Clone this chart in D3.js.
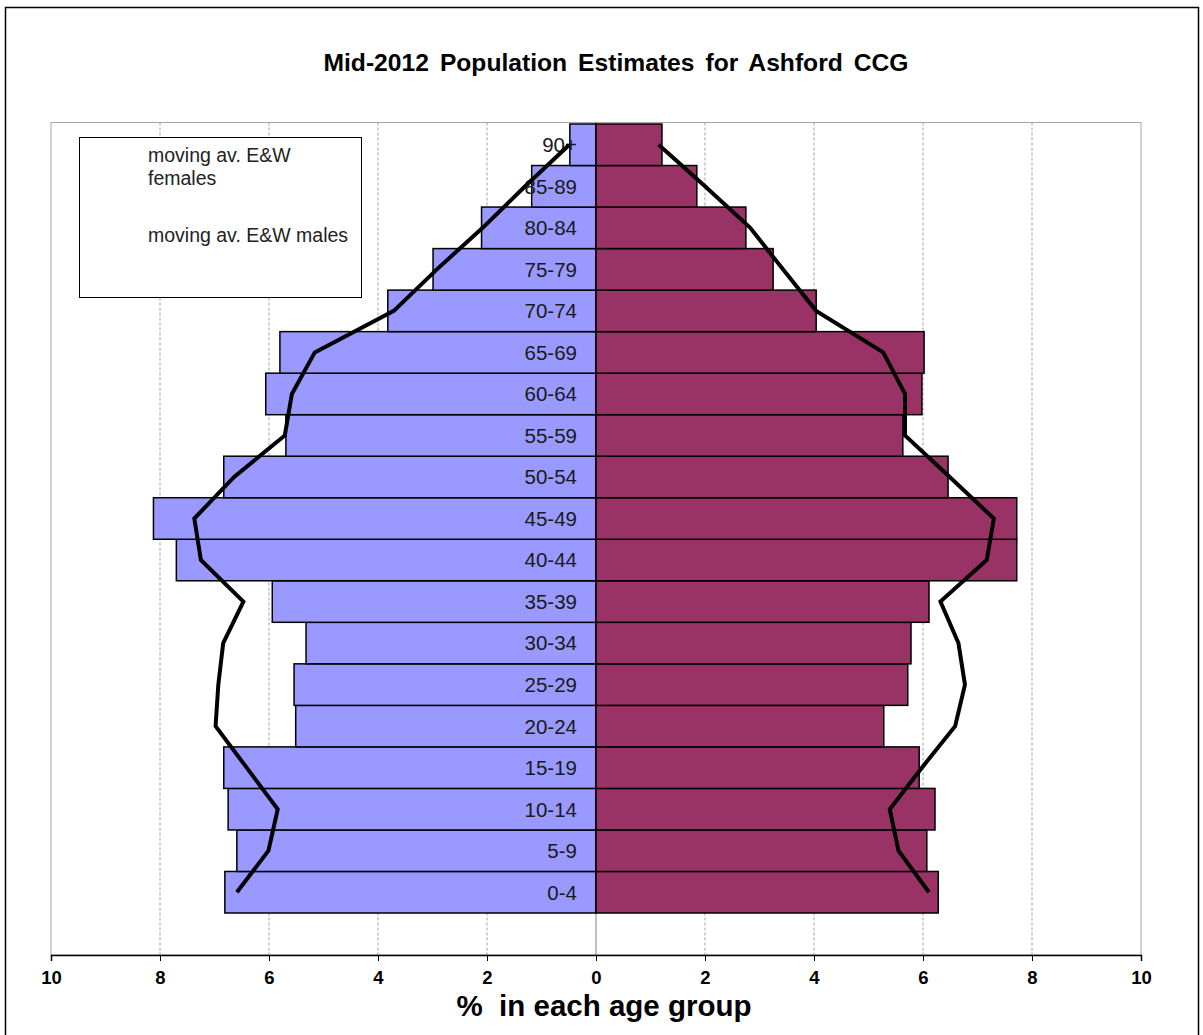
<!DOCTYPE html>
<html>
<head>
<meta charset="utf-8">
<script src="https://cdn.jsdelivr.net/npm/d3@7"></script>
<style>
  html, body { margin: 0; padding: 0; background: #fff; }
  svg { display: block; font-family: "Liberation Sans", Arial, sans-serif; }
</style>
</head>
<body>
<svg id="chart" width="1203" height="1035"></svg>
<script>
// Age bands, bottom to top
const ageGroups = ["0-4", "5-9", "10-14", "15-19", "20-24", "25-29", "30-34", "35-39", "40-44",
  "45-49", "50-54", "55-59", "60-64", "65-69", "70-74", "75-79", "80-84", "85-89", "90+"];

// % of population in each band (left side drawn as negatives)
const leftBars = [6.81, 6.59, 6.75, 6.83, 5.51, 5.54, 5.32, 5.94, 7.70,
  8.12, 6.83, 5.69, 6.06, 5.80, 3.82, 2.99, 2.10, 1.18, 0.48];
const rightBars = [6.28, 6.07, 6.22, 5.93, 5.28, 5.72, 5.78, 6.11, 7.72,
  7.72, 6.46, 5.63, 5.98, 6.02, 4.04, 3.25, 2.75, 1.85, 1.21];

// England & Wales moving averages (black lines)
const leftLine = [6.59, 6.01, 5.84, 6.41, 6.98, 6.93, 6.84, 6.47, 7.25,
  7.37, 6.64, 5.71, 5.58, 5.16, 3.71, 2.92, 2.08, 1.30, 0.49];
const rightLine = [6.11, 5.55, 5.39, 5.98, 6.59, 6.77, 6.65, 6.32, 7.17,
  7.30, 6.49, 5.67, 5.67, 5.27, 4.04, 3.43, 2.83, 2.00, 1.15];

const xTicks = [-10, -8, -6, -4, -2, 0, 2, 4, 6, 8, 10];
const legendLines = ["moving av. E&W", "females", "moving av. E&W males"];

const svg = d3.select("#chart");

// outer chart frame
svg.append("rect")
  .attr("x", 5.5).attr("y", 7.5).attr("width", 1193).attr("height", 1040)
  .attr("fill", "#fff").attr("stroke", "#000").attr("stroke-width", 1.5);

const plot = { left: 51, right: 1141, top: 122.5, bottom: 955 };

const x = d3.scaleLinear().domain([-10, 10]).range([plot.left, plot.right]);
const y = d3.scaleBand().domain(ageGroups).range([913, 124]).padding(0);

// plot border + gridlines
svg.append("rect")
  .attr("x", plot.left).attr("y", plot.top)
  .attr("width", plot.right - plot.left).attr("height", plot.bottom - plot.top)
  .attr("fill", "none").attr("stroke", "#a6a6a6").attr("stroke-width", 1);

svg.append("g").selectAll("line")
  .data(xTicks.filter(d => Math.abs(d) !== 10))
  .join("line")
  .attr("x1", d => x(d)).attr("x2", d => x(d))
  .attr("y1", plot.top).attr("y2", plot.bottom)
  .attr("stroke", d => d === 0 ? "#808080" : "#a0a0a0")
  .attr("stroke-width", 1)
  .attr("stroke-dasharray", d => d === 0 ? null : "3,2");

// bars
const bars = svg.append("g");
bars.selectAll("rect.left")
  .data(ageGroups)
  .join("rect")
  .attr("class", "left")
  .attr("x", (d, i) => x(-leftBars[i]))
  .attr("y", d => y(d))
  .attr("width", (d, i) => x(0) - x(-leftBars[i]))
  .attr("height", y.bandwidth())
  .attr("fill", "#9999ff").attr("stroke", "#000").attr("stroke-width", 1.5);

bars.selectAll("rect.right")
  .data(ageGroups)
  .join("rect")
  .attr("class", "right")
  .attr("x", x(0))
  .attr("y", d => y(d))
  .attr("width", (d, i) => x(rightBars[i]) - x(0))
  .attr("height", y.bandwidth())
  .attr("fill", "#993366").attr("stroke", "#000").attr("stroke-width", 1.5);

// age labels
svg.append("g").selectAll("text")
  .data(ageGroups)
  .join("text")
  .attr("x", 577)
  .attr("y", d => y(d) + y.bandwidth() / 2)
  .attr("dy", "0.36em")
  .attr("text-anchor", "end")
  .attr("font-size", 20.5)
  .attr("fill", "#1a1a1a")
  .text(d => d);

// moving average lines
const line = d3.line()
  .x(d => x(d.v))
  .y(d => y(d.age) + y.bandwidth() / 2);

svg.append("path")
  .datum(ageGroups.map((age, i) => ({ age, v: -leftLine[i] })))
  .attr("d", line)
  .attr("fill", "none").attr("stroke", "#000").attr("stroke-width", 4)
  .attr("stroke-linejoin", "miter");

svg.append("path")
  .datum(ageGroups.map((age, i) => ({ age, v: rightLine[i] })))
  .attr("d", line)
  .attr("fill", "none").attr("stroke", "#000").attr("stroke-width", 4)
  .attr("stroke-linejoin", "miter");

// x axis
const axis = svg.append("g")
  .attr("transform", `translate(0,${plot.bottom})`)
  .call(d3.axisBottom(x).tickValues(xTicks).tickSize(6).tickPadding(10)
    .tickFormat(d => Math.abs(d)));
axis.select(".domain").attr("stroke", "#000").attr("stroke-width", 1.5);
axis.selectAll(".tick line").attr("stroke", "#000");
axis.selectAll(".tick text")
  .attr("font-family", "'Liberation Sans', Arial, sans-serif")
  .attr("font-size", 18.5).attr("font-weight", "bold").attr("fill", "#000");

svg.append("text")
  .attr("x", 604).attr("y", 1016)
  .attr("text-anchor", "middle")
  .attr("font-size", 29.5).attr("font-weight", "bold")
  .attr("xml:space", "preserve")
  .text("%  in each age group");

// title
svg.append("text")
  .attr("x", 616).attr("y", 71)
  .attr("text-anchor", "middle")
  .attr("font-size", 24).attr("font-weight", "bold")
  .attr("word-spacing", 4)
  .attr("textLength", 585)
  .attr("lengthAdjust", "spacingAndGlyphs")
  .text("Mid-2012 Population Estimates for Ashford CCG");

// legend box (line swatches are blank in the original)
const legend = svg.append("g");
legend.append("rect")
  .attr("x", 79.5).attr("y", 137.5).attr("width", 282).attr("height", 160)
  .attr("fill", "#fff").attr("stroke", "#000").attr("stroke-width", 1);
legend.selectAll("text")
  .data(legendLines)
  .join("text")
  .attr("x", 148)
  .attr("y", (d, i) => [162, 185, 242][i])
  .attr("font-size", 19.5)
  .attr("fill", "#222")
  .text(d => d);
</script>
</body>
</html>
